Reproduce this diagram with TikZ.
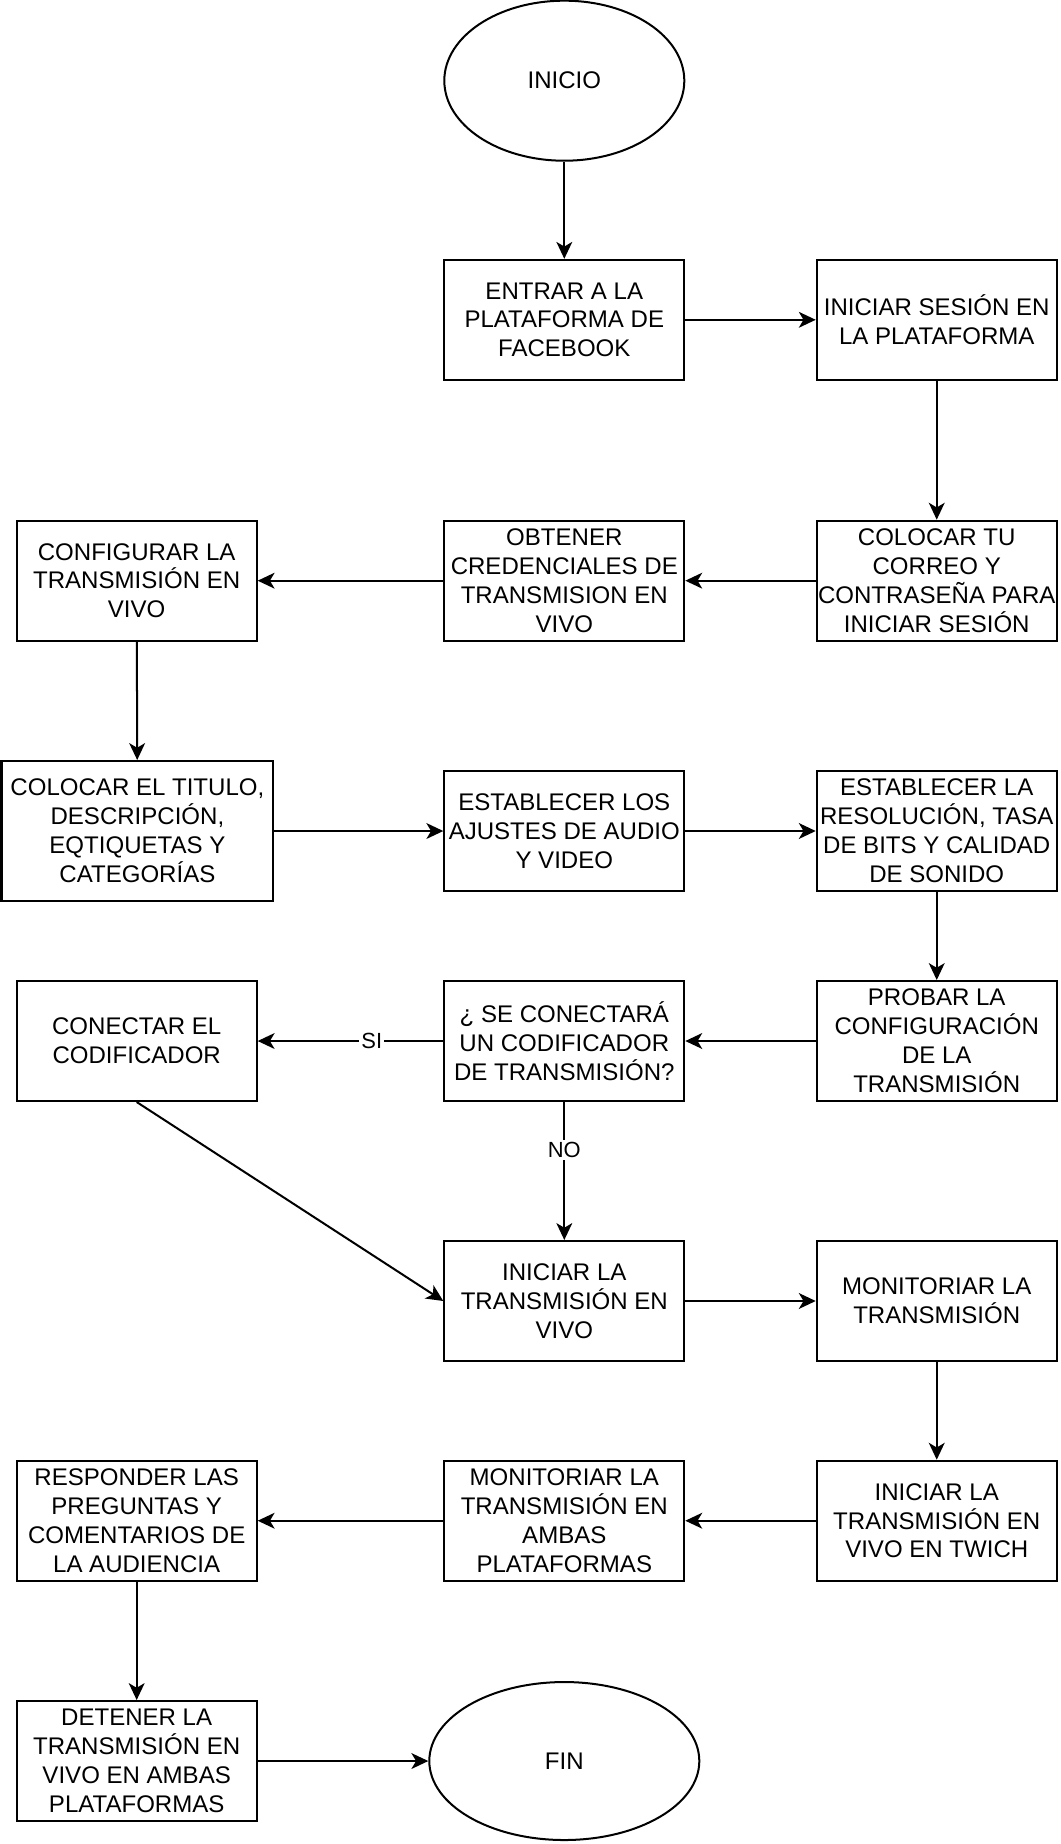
\documentclass[tikz,border=0pt]{standalone}
\usepackage{fontspec}
\setmainfont{Liberation Sans}
\usetikzlibrary{arrows.meta,shapes.geometric}

\begin{document}
\begin{tikzpicture}[
    caja/.style={draw, line width=0.95pt, minimum width=4cm, minimum height=2cm, inner sep=0pt, align=center, font=\fontsize{11.4}{13.7}\selectfont},
    terminal/.style={draw, ellipse, line width=0.95pt, inner sep=0pt, font=\fontsize{11.4}{13.7}\selectfont},
    flecha/.style={-{Stealth[length=8pt, width=7.5pt, inset=2.2pt]}, line width=0.95pt},
    etiqueta/.style={fill=white, inner sep=1pt, font=\fontsize{10.4}{12}\selectfont}
  ]
    \useasboundingbox (0, 0) rectangle (17.667, -30.733);

    \node[terminal, minimum width=4cm, minimum height=2.667cm] (inicio) at (9.405, -1.345) {INICIO};

    \node[caja] (entrar) at (9.405, -5.33) {ENTRAR A LA\\PLATAFORMA DE\\FACEBOOK};
    \node[caja] (sesion) at (15.612, -5.33) {INICIAR SESIÓN EN\\LA PLATAFORMA};

    \node[caja] (correo) at (15.612, -9.678) {COLOCAR TU\\CORREO Y\\CONTRASEÑA PARA\\INICIAR SESIÓN};
    \node[caja] (credenciales) at (9.405, -9.678) {OBTENER\\CREDENCIALES DE\\TRANSMISION EN\\VIVO};
    \node[caja] (configurar) at (2.278, -9.678) {CONFIGURAR LA\\TRANSMISIÓN EN\\VIVO};

    \node[caja, minimum width=4.53cm, minimum height=2.333cm] (titulo) at (2.29, -13.85) {COLOCAR EL TITULO,\\DESCRIPCIÓN,\\EQTIQUETAS Y\\CATEGORÍAS};
    \node[caja] (audio) at (9.405, -13.85) {ESTABLECER LOS\\AJUSTES DE AUDIO\\Y VIDEO};
    \node[caja] (resolucion) at (15.612, -13.85) {ESTABLECER LA\\RESOLUCIÓN, TASA\\DE BITS Y CALIDAD\\DE SONIDO};

    \node[caja] (probar) at (15.612, -17.35) {PROBAR LA\\CONFIGURACIÓN\\DE LA\\TRANSMISIÓN};
    \node[caja] (pregunta) at (9.405, -17.35) {¿ SE CONECTARÁ\\UN CODIFICADOR\\DE TRANSMISIÓN?};
    \node[caja] (codificador) at (2.278, -17.35) {CONECTAR EL\\CODIFICADOR};

    \node[caja] (iniciar) at (9.405, -21.683) {INICIAR LA\\TRANSMISIÓN EN\\VIVO};
    \node[caja] (monitoriar) at (15.612, -21.683) {MONITORIAR LA\\TRANSMISIÓN};

    \node[caja] (twich) at (15.612, -25.345) {INICIAR LA\\TRANSMISIÓN EN\\VIVO EN TWICH};
    \node[caja] (ambas) at (9.405, -25.345) {MONITORIAR LA\\TRANSMISIÓN EN\\AMBAS\\PLATAFORMAS};
    \node[caja] (responder) at (2.278, -25.345) {RESPONDER LAS\\PREGUNTAS Y\\COMENTARIOS DE\\LA AUDIENCIA};

    \node[caja] (detener) at (2.278, -29.35) {DETENER LA\\TRANSMISIÓN EN\\VIVO EN AMBAS\\PLATAFORMAS};
    \node[terminal, minimum width=4.5cm, minimum height=2.633cm] (fin) at (9.405, -29.35) {FIN};

    \draw[flecha] (inicio) -- (entrar);
    \draw[flecha] (entrar) -- (sesion);
    \draw[flecha] (sesion) -- (correo);
    \draw[flecha] (correo) -- (credenciales);
    \draw[flecha] (credenciales) -- (configurar);
    \draw[flecha] (configurar) -- (titulo);
    \draw[flecha] (titulo.east |- audio.west) -- (audio.west);
    \draw[flecha] (audio) -- (resolucion);
    \draw[flecha] (resolucion) -- (probar);
    \draw[flecha] (probar) -- (pregunta);
    \draw[flecha] (pregunta) -- node[etiqueta, pos=0.385] {SI} (codificador);
    \draw[flecha] (pregunta) -- node[etiqueta, pos=0.35] {NO} (iniciar);
    \draw[flecha] (codificador.south) -- (iniciar.west);
    \draw[flecha] (iniciar) -- (monitoriar);
    \draw[flecha] (monitoriar) -- (twich);
    \draw[flecha] (twich) -- (ambas);
    \draw[flecha] (ambas) -- (responder);
    \draw[flecha] (responder) -- (detener);
    \draw[flecha] (detener) -- (fin);
  \end{tikzpicture}
\end{document}
